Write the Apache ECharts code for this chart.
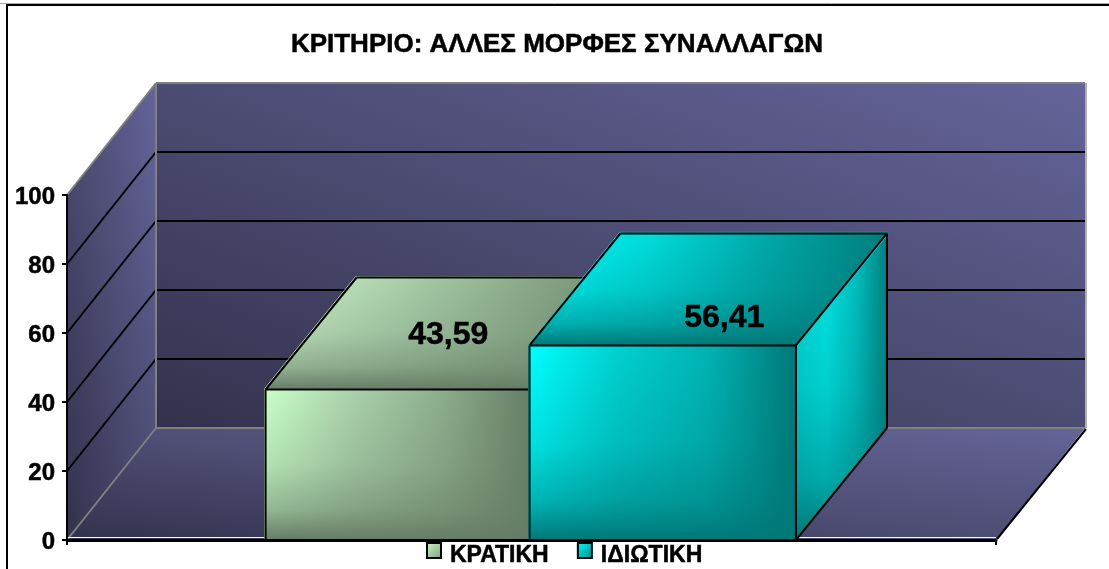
<!DOCTYPE html>
<html>
<head>
<meta charset="utf-8">
<style>html,body{margin:0;padding:0;background:#fff}#c{width:1109px;height:569px}</style>
<script src="https://cdn.jsdelivr.net/npm/echarts@6/dist/echarts.min.js"></script>
</head>
<body>
<div id="c"></div>
<script>
var titleText = 'ΚΡΙΤΗΡΙΟ: ΑΛΛΕΣ ΜΟΡΦΕΣ ΣΥΝΑΛΛΑΓΩΝ';
var categories = [''];
var seriesNames = ['ΚΡΑΤΙΚΗ', 'ΙΔΙΩΤΙΚΗ'];
var kratikiValues = [43.59];
var idiotikiValues = [56.41];
var yTicks = [0, 20, 40, 60, 80, 100];
var FONT = '"Liberation Sans", Arial, sans-serif';
var DX = 89, DY = -112, BAR_DX = 91, BAR_WIDTH_RATIO = 0.2868;

var G = echarts.graphic;
function lin(x, y, x2, y2, stops) {
  return new G.LinearGradient(x, y, x2, y2, stops.map(function (c, i) {
    return { offset: stops.length === 1 ? 0 : i / (stops.length - 1), color: c };
  }));
}
// gradient running from the bottom-left to the top-right corner of a W x H box,
// with the top-left and bottom-right corners both on the middle colour
function cornerGrad(W, H, stops) {
  var D2 = W * W + H * H;
  return lin(0, 1, 2 * H * H / D2, 1 - 2 * W * W / D2, stops);
}
var greenStyle = {
  edge: '#a8d0a8', dark: '102,124,102',
  frontH: ['#c8ffc8', '#a9d0a9', '#8cad8c', '#667c66'],
  topH: ['#ccf6cc', '#aed4ae', '#8fb08f', '#728c72'],
  sideH: ['#a8cfa8', '#8fb08f', '#627a62'],
  label: [4, 2]
};
var cyanStyle = {
  edge: '#00d8d8', dark: '0,120,120',
  frontH: ['#00ffff', '#00d0d0', '#00b4b4', '#007878'],
  topH: ['#00ffff', '#00dcdc', '#00a8a8', '#007e7e'],
  sideH: ['#00d8d8', '#00e8e8', '#00c0c0', '#008080'],
  label: [16, 29]
};

function poly(points, fill) {
  return { type: 'polygon', shape: { points: points }, style: { fill: fill, stroke: null }, silent: true };
}
function seg(a, b, color, w) {
  return { type: 'line', shape: { x1: a[0], y1: a[1], x2: b[0], y2: b[1] },
    style: { stroke: color, lineWidth: w, fill: null }, silent: true };
}
function shadedFace(points, hStops, dark) {
  var over = new G.LinearGradient(0, 0, 0, 1, [
    { offset: 0, color: 'rgba(' + dark + ',0)' },
    { offset: 0.5, color: 'rgba(' + dark + ',0.22)' },
    { offset: 0.8, color: 'rgba(' + dark + ',0.55)' },
    { offset: 1, color: 'rgba(' + dark + ',1)' }
  ]);
  return [poly(points, lin(0, 0, 1, 0, hStops)), poly(points, over)];
}

function renderWalls(params, api) {
  var w = api.size([1, 0])[0];
  var x0 = api.coord([0, 0])[0] - w / 2;
  var y0 = api.coord([0, 0])[1];
  var yT = api.coord([0, 100])[1];
  var x1 = x0 + w;
  var h = y0 - yT;
  var wallStops = ['#33324d', '#4c4b72', '#64649a'];
  var floorStops = ['#33324d', '#4f4e75', '#646498'];
  var kids = [
    poly([[x0 + DX, yT + DY], [x1 + DX, yT + DY], [x1 + DX, y0 + DY], [x0 + DX, y0 + DY]], cornerGrad(w, h, wallStops)),
    poly([[x0, yT], [x0 + DX, yT + DY], [x0 + DX, y0 + DY], [x0, y0]], cornerGrad(DX, h - DY, wallStops)),
    poly([[x0, y0], [x0 + DX, y0 + DY], [x1 + DX, y0 + DY], [x1, y0]], cornerGrad(w + DX, -DY, floorStops))
  ];
  yTicks.forEach(function (t) {
    if (t === 0 || t === 100) return;
    var y = api.coord([0, t])[1];
    kids.push(seg([x0, y], [x0 + DX, y + DY], '#000', 2));
    kids.push(seg([x0 + DX, y + DY], [x1 + DX, y + DY], '#000', 2));
  });
  var gray = '#808080';
  kids.push(seg([x0, yT], [x0 + DX, yT + DY], gray, 2));
  kids.push(seg([x0 + DX, yT + DY], [x1 + DX, yT + DY], gray, 2));
  kids.push(seg([x0 + DX, yT + DY], [x0 + DX, y0 + DY], gray, 2));
  kids.push(seg([x0 + DX, y0 + DY], [x1 + DX, y0 + DY], gray, 2));
  kids.push(seg([x0, y0], [x0 + DX, y0 + DY], gray, 2));
  kids.push(seg([x1 + DX + 1, yT + DY], [x1 + DX + 1, y0 + DY], '#b0b0b0', 2));
  kids.push(seg([x0, y0 - 2.5], [x1, y0 - 2.5], '#ffffff', 1));
  kids.push(seg([x1 + 1, y0 - 1], [x1 + DX + 1, y0 + DY + 1], '#000', 2));
  return { type: 'group', children: kids };
}

function makeBarRenderer(style, slot) {
  return function (params, api) {
    var c = api.coord([api.value(0), 0]);
    var slotW = api.size([1, 0])[0];
    var bw = slotW * BAR_WIDTH_RATIO;
    var val = api.value(1);
    var xl = c[0] + (slot === 0 ? -bw + 0.5 : -2);
    var xr = xl + bw;
    var yb = c[1];
    var yt = api.coord([api.value(0), val])[1];
    var d = BAR_DX;
    var front = [[xl, yt], [xr, yt], [xr, yb], [xl, yb]];
    var top = [[xl, yt], [xl + d, yt + DY], [xr + d, yt + DY], [xr, yt]];
    var side = [[xr, yt], [xr + d, yt + DY], [xr + d, yb + DY], [xr, yb]];
    var kids = []
      .concat(shadedFace(side, style.sideH, style.dark))
      .concat(shadedFace(top, style.topH, style.dark))
      .concat(shadedFace(front, style.frontH, style.dark));
    // outer coloured rim
    kids.push(seg([xl - 1, yb], [xl - 1, yt - 1], style.edge, 1));
    kids.push(seg([xl - 1, yt - 1], [xl + d - 1, yt + DY - 1], style.edge, 1));
    kids.push(seg([xl + d - 1, yt + DY - 1], [xr + d, yt + DY - 1], style.edge, 1));
    kids.push(seg([xr + 1, yt + 1], [xr + d + 1, yt + DY + 1], style.edge, 1));
    // black edges
    kids.push(seg([xl, yt], [xr, yt], '#000', 2));
    kids.push(seg([xl, yt], [xl, yb], '#000', 2));
    kids.push(seg([xr, yt], [xr, yb], '#000', 2));
    kids.push(seg([xl, yt], [xl + d, yt + DY], '#000', 2));
    kids.push(seg([xl + d, yt + DY], [xr + d, yt + DY], '#000', 2));
    kids.push(seg([xr, yt], [xr + d, yt + DY], '#000', 2));
    kids.push(seg([xr + d, yt + DY], [xr + d, yb + DY], '#000', 2));
    kids.push(seg([xr, yb], [xr + d, yb + DY], '#000', 2));
    kids.push({
      type: 'text', silent: true, z2: 50,
      x: (xl + xr + d) / 2 + style.label[0], y: (yt + yt + DY) / 2 + style.label[1],
      style: { text: val.toFixed(2).replace('.', ','), fill: '#000', stroke: '#000', lineWidth: 0.5,
        font: 'bold 32px ' + FONT, textAlign: 'center', textVerticalAlign: 'middle' }
    });
    return { type: 'group', children: kids };
  };
}

var chart = echarts.init(document.getElementById('c'), null, { renderer: 'canvas' });
chart.setOption({
  animation: false,
  backgroundColor: '#ffffff',
  title: {
    text: titleText, left: 552, top: 27, textAlign: 'center',
    textStyle: { fontFamily: FONT, fontWeight: 'bold', fontSize: 26, color: '#000', textBorderColor: '#000', textBorderWidth: 0.5 }
  },
  legend: {
    left: 421, top: 537, itemWidth: 14, itemHeight: 15, itemGap: 28,
    selectedMode: false,
    formatter: '{t|{name}}',
    textStyle: {
      rich: { t: { fontFamily: FONT, fontWeight: 'bold', fontSize: 23, color: '#000', padding: [10, 0, 0, 4], textBorderColor: '#000', textBorderWidth: 0.5 } }
    },
    data: [
      { name: seriesNames[0], icon: 'rect', itemStyle: { color: lin(0, 0, 1, 1, ['#c8fbc8', '#7f9c7f']), borderColor: '#000', borderWidth: 2 } },
      { name: seriesNames[1], icon: 'rect', itemStyle: { color: lin(0, 0, 1, 1, ['#00ffff', '#008484']), borderColor: '#000', borderWidth: 2 } }
    ]
  },
  grid: { left: 67, width: 929, top: 195, height: 345, containLabel: false },
  xAxis: {
    type: 'category', data: categories, z: 10,
    axisLine: { lineStyle: { color: '#000', width: 3 } },
    axisTick: { show: true, length: 5, lineStyle: { color: '#000', width: 2 } },
    axisLabel: { show: false }, splitLine: { show: false }
  },
  yAxis: {
    type: 'value', min: 0, max: 100, interval: 20, z: 10,
    axisLine: { show: true, lineStyle: { color: '#000', width: 2 } },
    axisTick: { show: true, length: 5, lineStyle: { color: '#000', width: 2 } },
    axisLabel: { margin: 12,
      rich: { t: { fontFamily: FONT, fontWeight: 'bold', fontSize: 24, color: '#000', padding: [4, 0, 0, 0], textBorderColor: '#000', textBorderWidth: 0.5 } },
      formatter: function (v) { return yTicks.indexOf(v) >= 0 ? '{t|' + v + '}' : ''; } },
    splitLine: { show: false }
  },
  graphic: [
    { type: 'line', silent: true, shape: { x1: 7, y1: 5, x2: 1109, y2: 5 }, style: { stroke: '#000', lineWidth: 2 } },
    { type: 'line', silent: true, shape: { x1: 0, y1: 3.5, x2: 1109, y2: 3.5 }, style: { stroke: '#aaaaaa', lineWidth: 1 } },
    { type: 'line', silent: true, shape: { x1: 7, y1: 4, x2: 7, y2: 569 }, style: { stroke: '#000', lineWidth: 2 } }
  ],
  series: [
    { type: 'custom', name: 'walls', silent: true, z: 1, data: [[0, 100]], renderItem: renderWalls },
    { type: 'custom', name: seriesNames[0], silent: true, z: 2,
      data: kratikiValues.map(function (v, i) { return [i, v]; }), renderItem: makeBarRenderer(greenStyle, 0) },
    { type: 'custom', name: seriesNames[1], silent: true, z: 3,
      data: idiotikiValues.map(function (v, i) { return [i, v]; }), renderItem: makeBarRenderer(cyanStyle, 1) }
  ]
});
</script>
</body>
</html>
